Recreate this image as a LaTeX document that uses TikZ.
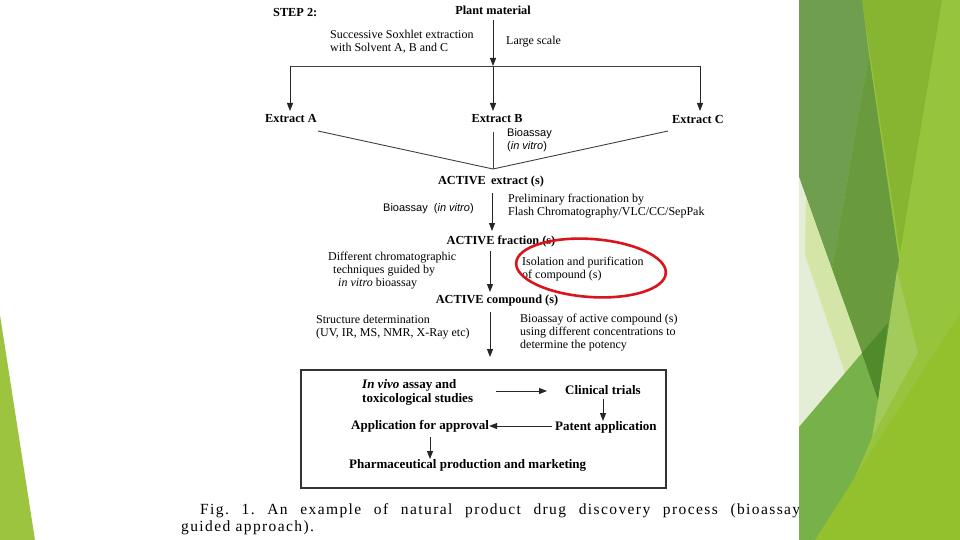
\documentclass[tikz,border=0pt]{standalone}
\usepackage{fontspec}
\setmainfont{Liberation Serif}
\setsansfont{Liberation Sans}
\newfontfamily\capfont[LetterSpace=9]{Liberation Serif}
\usetikzlibrary{arrows.meta}
\definecolor{cbase}{HTML}{97C43D}
\definecolor{colive}{HTML}{87B431}
\definecolor{cmuted}{HTML}{6F9E4E}
\definecolor{cdark}{HTML}{699A3E}
\definecolor{cpale}{HTML}{E4EED6}
\definecolor{cly}{HTML}{D4E5A8}
\definecolor{cmed}{HTML}{77B149}
\definecolor{cvdark}{HTML}{4F8B2B}
\definecolor{clg}{HTML}{A3CB5B}
\definecolor{cbot}{HTML}{93C02D}
\definecolor{cleft}{HTML}{9DC43E}
\definecolor{cred}{HTML}{D8141C}
\begin{document}
\frenchspacing
\begin{tikzpicture}[x=1pt,y=-1pt,
  lbl/.style={inner sep=0pt, font=\fontsize{12.3}{13}\selectfont\bfseries},
  blbl/.style={inner sep=0pt, font=\fontsize{13}{14}\selectfont\bfseries, anchor=west, align=left},
  txt/.style={inner sep=0pt, font=\fontsize{12}{13}\selectfont, align=left, anchor=west},
  sans/.style={inner sep=0pt, font=\sffamily\fontsize{11}{13}\selectfont, align=left, anchor=west},
  arr/.style={-{Triangle[length=8pt,width=6pt]}, line width=1pt, draw=black!85},
  ln/.style={line width=0.9pt, draw=black!75}]
\useasboundingbox (0,0) rectangle (960,540);
\fill[white] (0,0) rectangle (960,540);

% ---- texts ----
\node[lbl, anchor=west] (step) at (273,13) {STEP 2:};
\node[lbl] (plant) at (493,10) {Plant material};
\node[txt] (soxh) at (330,41.5) {Successive Soxhlet extraction\\with Solvent A, B and C};
\node[txt] (large) at (506,42) {Large scale};
\node[lbl] (extA) at (291,119) {Extract A};
\node[lbl] (extB) at (497,119) {Extract B};
\node[lbl] (extC) at (698,119) {Extract C};
\node[sans] (bio1) at (507,140.5) {Bioassay\\(\textit{in vitro})};
\node[lbl] (actext) at (491,182) {ACTIVE\, extract (s)};
\node[sans] (bio2) at (383,209) {Bioassay\ \ (\textit{in vitro})};
\node[txt] (prelim) at (508,206) {Preliminary fractionation by\\Flash Chromatography/VLC/CC/SepPak};
\node[lbl] (actfrac) at (501,241) {ACTIVE fraction (s)};
\node[txt] (diff) at (328,270.5) {Different chromatographic\\\hspace*{5pt}techniques guided by\\\hspace*{10pt}\textit{in vitro} bioassay};
\node[txt] (iso) at (522,269.5) {Isolation and purification\\of compound (s)};
\node[lbl] (actcomp) at (497,301) {ACTIVE compound (s)};
\node[txt] (struct) at (316,327.5) {Structure determination\\(UV, IR, MS, NMR, X-Ray etc)};
\node[txt] (bioact) at (520,333) {Bioassay of active compound (s)\\using different concentrations to\\determine the potency};

% ---- box ----
\node[draw=black!80, line width=1.1pt, minimum width=365pt, minimum height=118pt, inner sep=0pt] (box) at (483.5,429) {};
\node[blbl] (invivo) at (362,392) {\textit{In vivo} assay and\\toxicological studies};
\node[blbl] (clin) at (565,390) {Clinical trials};
\node[blbl] (patent) at (555,427) {Patent application};
\node[blbl] (appl) at (351,426) {Application for approval};
\node[blbl] (pharm) at (349,465) {Pharmaceutical production and marketing};

% ---- connectors ----
\coordinate (hm) at (493,66);
\coordinate (hl) at (290,66);
\coordinate (hr) at (700,66);
\coordinate (pa) at (493,20);
\coordinate (eb) at (493,111);
\coordinate (ea) at (290,111);
\coordinate (ec) at (700,111);
\draw[arr] (pa) -- (hm);
\draw[arr] (hm) -- (eb);
\draw[ln] (hl) -- (hr);
\draw[arr] (hl) -- (ea);
\draw[arr] (hr) -- (ec);

\coordinate (mA) at (318,131);
\coordinate (mB) at (493,132);
\coordinate (mC) at (668,131);
\coordinate (mJ) at (493,169);
\draw[ln] (mA) -- (mJ) -- (mC);
\draw[ln] (mB) -- (mJ);

\coordinate (a1s) at (492,193);
\coordinate (a1e) at (492,231);
\draw[arr] (a1s) -- (a1e);
\coordinate (a2s) at (490,251);
\coordinate (a2e) at (490,292);
\draw[arr] (a2s) -- (a2e);
\coordinate (a3s) at (490,312);
\coordinate (a3e) at (490,357);
\draw[arr] (a3s) -- (a3e);

\coordinate (b1s) at (496,391);
\coordinate (b1e) at (547,391);
\draw[arr] (b1s) -- (b1e);
\coordinate (b2s) at (603,399);
\coordinate (b2e) at (603,421);
\draw[arr] (b2s) -- (b2e);
\coordinate (b3s) at (552,426);
\draw[arr] (b3s) -- (appl.east);
\coordinate (b4s) at (430,437);
\coordinate (b4e) at (430,459);
\draw[arr] (b4s) -- (b4e);

% ---- red ellipse ----
\draw[cred, line width=2.6pt] (591,268) ellipse [x radius=75pt, y radius=29pt, rotate=-4];

% ---- caption ----
\node[inner sep=0pt, anchor=west, font=\capfont\fontsize{15.5}{17}\selectfont] (cap1) at (200,511)
  {\makebox[600pt][s]{Fig. 1. An example of natural product drug discovery process (bioassay}};
\node[inner sep=0pt, anchor=west, font=\capfont\fontsize{15.5}{17}\selectfont] (cap2) at (181,527.5) {guided approach).};

% ---- decorative panel ----
\fill[cleft] (0,315) -- (35,540) -- (0,540) -- cycle;
\fill[cbase] (799,0) rectangle (960,540);
\fill[colive] (862,0) -- (942,0) -- (900,253) -- cycle;
\fill[cmuted] (799,0) -- (862,0) -- (869,55) -- (832,270) -- (799,177) -- cycle;
\fill[cdark] (869,55) -- (899,260) -- (878,400) -- (832,270) -- cycle;
\fill[cpale] (799,177) -- (878,400) -- (799,427) -- cycle;
\fill[cly] (806,197) -- (862,353) -- (845,373) -- (805,255) -- cycle;
\fill[clg] (897,270) -- (918,353) -- (872,437) -- (878,400) -- cycle;
\fill[cmed] (799,427) -- (862,353) -- (878,400) -- (872,437) -- (828,540) -- (799,540) -- cycle;
\fill[cvdark] (862,353) -- (888,323) -- (878,400) -- cycle;
\fill[cbot] (815,540) -- (960,313) -- (960,540) -- cycle;
\end{tikzpicture}
\end{document}
